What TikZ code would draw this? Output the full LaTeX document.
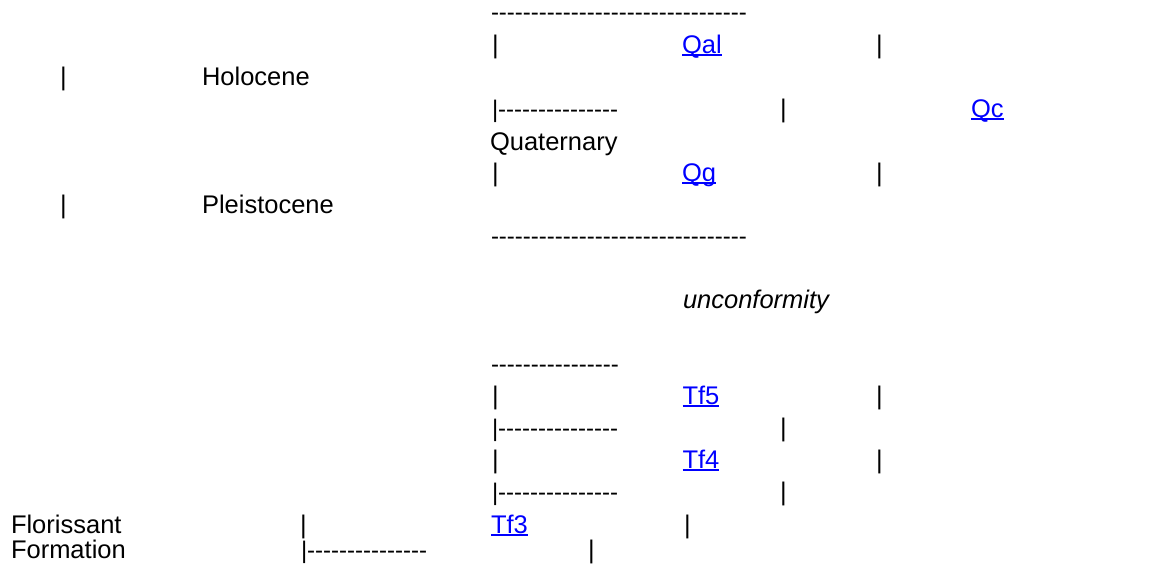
\documentclass[tikz,border=0pt]{standalone}
\usepackage{fontspec}
\setmainfont{Liberation Sans}
\newfontfamily\dfont{Liberation Sans}
\definecolor{linkblue}{RGB}{0,0,255}
\newcommand\lnk[1]{{\color{linkblue}\setbox0\hbox{#1}\rlap{\rule[-2.8pt]{\wd0}{1.6pt}}\box0}}
\tikzset{
  txt/.style={anchor=base west,inner sep=0pt,outer sep=0pt,font=\fontsize{25.5}{25.5}\selectfont},
  dsh/.style={anchor=base west,inner sep=0pt,outer sep=0pt,font=\dfont\fontsize{24}{24}\selectfont}
}
\begin{document}
\begin{tikzpicture}[x=1pt,y=-1pt]
\useasboundingbox (0,0) rectangle (1156,565);
% line 0
\node[dsh] (d0) at (491,20.5) {--------------------------------};
% line 1
\node[txt] (b1a) at (492,53) {|};
\node[txt] (qal) at (682,53) {\lnk{Qal}};
\node[txt] (b1b) at (876,53) {|};
% line 2
\node[txt] (b2a) at (60,85) {|};
\node[txt] (holo) at (202,85) {Holocene};
% line 3
\node[dsh] (d3) at (492,117) {|---------------};
\node[txt] (b3b) at (780,117) {|};
\node[txt] (qc) at (971,117) {\lnk{Qc}};
% line 4
\node[txt] (quat) at (490,150) {Quaternary};
% line 5
\node[txt] (b5a) at (492,181) {|};
\node[txt] (qg) at (682,181) {\lnk{Qg}};
\node[txt] (b5b) at (876,181) {|};
% line 6
\node[txt] (b6a) at (60,213) {|};
\node[txt] (pleis) at (202,213) {Pleistocene};
% line 7
\node[dsh] (d7) at (491,244) {--------------------------------};
% line 9
\node[txt] (unc) at (683,308) {\textit{unconformity}};
% line 11
\node[dsh] (d11) at (491,372) {----------------};
% line 12
\node[txt] (b12a) at (492,404) {|};
\node[txt] (tf5) at (682.5,404) {\lnk{Tf5}};
\node[txt] (b12b) at (876,404) {|};
% line 13
\node[dsh] (d13) at (492,436) {|---------------};
\node[txt] (b13b) at (780,436) {|};
% line 14
\node[txt] (b14a) at (492,468) {|};
\node[txt] (tf4) at (682.5,468) {\lnk{Tf4}};
\node[txt] (b14b) at (876,468) {|};
% line 15
\node[dsh] (d15) at (492,500) {|---------------};
\node[txt] (b15b) at (780,500) {|};
% line 16
\node[txt] (flor) at (11,533) {Florissant};
\node[txt] (b16a) at (300,533) {|};
\node[txt] (tf3) at (491,533) {\lnk{Tf3}};
\node[txt] (b16b) at (684,533) {|};
% line 17
\node[txt] (form) at (11,558) {Formation};
\node[dsh] (d17) at (301,558) {|---------------};
\node[txt] (b17b) at (588,558) {|};
\end{tikzpicture}
\end{document}
